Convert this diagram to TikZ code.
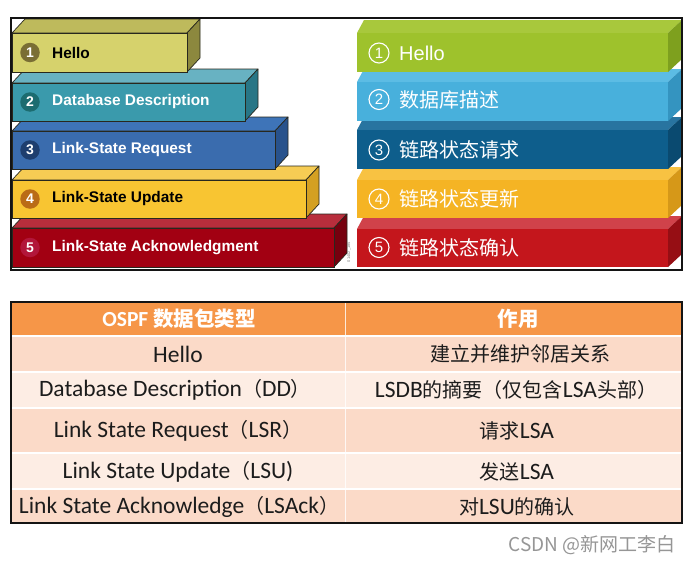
\documentclass[tikz,border=0pt]{standalone}
\usepackage{fontspec}
\setmainfont{Liberation Sans}
\newfontfamily\cjk{Noto Sans CJK SC}
\newfontfamily\calfont{Carlito}
\definecolor{frame}{RGB}{20,20,20}
\definecolor{lout}{RGB}{40,40,30}
% left blocks
\definecolor{lAf}{RGB}{214,210,108}\definecolor{lAt}{RGB}{190,186,92}\definecolor{lAs}{RGB}{140,136,62}\definecolor{lAc}{RGB}{122,110,52}
\definecolor{lBf}{RGB}{58,154,172}\definecolor{lBt}{RGB}{104,178,194}\definecolor{lBs}{RGB}{40,118,134}\definecolor{lBc}{RGB}{28,108,112}
\definecolor{lCf}{RGB}{58,108,174}\definecolor{lCt}{RGB}{62,116,184}\definecolor{lCs}{RGB}{40,82,140}\definecolor{lCc}{RGB}{30,62,110}
\definecolor{lDf}{RGB}{248,197,50}\definecolor{lDt}{RGB}{246,204,84}\definecolor{lDs}{RGB}{212,160,34}\definecolor{lDc}{RGB}{186,108,22}
\definecolor{lEf}{RGB}{162,0,18}\definecolor{lEt}{RGB}{184,46,60}\definecolor{lEs}{RGB}{118,0,14}\definecolor{lEc}{RGB}{178,22,58}
% right blocks
\definecolor{rAf}{RGB}{158,194,44}\definecolor{rAt}{RGB}{168,200,60}\definecolor{rAs}{RGB}{126,160,30}
\definecolor{rBf}{RGB}{72,176,220}\definecolor{rBt}{RGB}{92,188,228}\definecolor{rBs}{RGB}{52,148,192}
\definecolor{rCf}{RGB}{14,94,140}\definecolor{rCt}{RGB}{40,116,160}\definecolor{rCs}{RGB}{10,74,112}
\definecolor{rDf}{RGB}{245,180,36}\definecolor{rDt}{RGB}{248,194,66}\definecolor{rDs}{RGB}{214,152,24}
\definecolor{rEf}{RGB}{196,22,28}\definecolor{rEt}{RGB}{208,66,74}\definecolor{rEs}{RGB}{150,14,20}
% table
\definecolor{thead}{RGB}{246,150,72}
\definecolor{rowA}{RGB}{251,218,200}
\definecolor{rowB}{RGB}{253,237,228}
\definecolor{ttext}{RGB}{28,28,28}
\definecolor{wm}{RGB}{150,150,150}
\newcommand{\lblock}[7]{%
  \draw[fill=#6,draw=lout,line width=0.7pt,line join=round] (#1,#2) -- (#1+13,#2-14) -- (#3+13,#2-14) -- (#3,#2) -- cycle;
  \draw[fill=#7,draw=lout,line width=0.7pt,line join=round] (#3,#2) -- (#3+13,#2-14) -- (#3+13,#4-14) -- (#3,#4) -- cycle;
  \draw[fill=#5,draw=lout,line width=0.7pt] (#1,#2) rectangle (#3,#4);}
\newcommand{\rblock}[7]{%
  \fill[#6] (#1,#2) -- (#1+7,#2-13) -- (#3+14,#2-13) -- (#3,#2) -- cycle;
  \fill[#7] (#3,#2) -- (#3+14,#2-13) -- (#3+14,#4-13) -- (#3,#4) -- cycle;
  \fill[#5] (#1,#2) rectangle (#3,#4);}
\newcommand{\zh}[1]{{\cjk\fontsize{20}{24}\selectfont #1}}
\newcommand{\la}[1]{{\calfont\fontsize{23.5}{26}\selectfont #1}}
\newcommand{\zhb}[1]{{\cjk\bfseries\fontsize{20.5}{24}\selectfont #1}}
\newcommand{\lab}[1]{{\calfont\bfseries\fontsize{21.5}{26}\selectfont #1}}
\tikzset{
  lnum/.style={circle,inner sep=0pt,minimum size=19.5pt,text=white,font=\bfseries\fontsize{14}{14}\selectfont},
  llab/.style={anchor=west,inner sep=0pt,font=\bfseries\fontsize{15.4}{18}\selectfont},
  rnum/.style={circle,draw=white,line width=1.1pt,inner sep=0pt,minimum size=20pt,text=white,font=\fontsize{15}{15}\selectfont},
  rlab/.style={anchor=west,inner sep=0pt,text=white,font=\fontsize{20}{24}\selectfont},
  cell/.style={inner sep=0pt,text=ttext}
}
\begin{document}
\begin{tikzpicture}[x=1pt,y=-1pt]
\useasboundingbox (0,0) rectangle (690,562);
\fill[white] (0,0) rectangle (690,562);
% ---------- left stacked blocks ----------
\lblock{12}{228}{334}{267}{lEf}{lEt}{lEs}
\lblock{12}{180}{306}{218}{lDf}{lDt}{lDs}
\lblock{12}{131}{275}{169}{lCf}{lCt}{lCs}
\lblock{12}{83}{245}{121}{lBf}{lBt}{lBs}
\lblock{12}{33}{187}{72}{lAf}{lAt}{lAs}
\node[lnum,fill=lAc] (n1) at (30,52.5) {1};
\node[lnum,fill=lBc] (n2) at (30,102) {2};
\node[lnum,fill=lCc] (n3) at (30,150) {3};
\node[lnum,fill=lDc] (n4) at (30,199) {4};
\node[lnum,fill=lEc] (n5) at (30,247.5) {5};
\node[llab,text=black] (t1) at (52,52.5) {Hello};
\node[llab,text=white] (t2) at (52,102) {Database Description};
\node[llab,text=white] (t3) at (52,150) {Link-State Request};
\node[llab,text=black] (t4) at (52,199) {Link-State Update};
\node[llab,text=white] (t5) at (52,247.5) {Link-State Acknowledgment};
\node[rotate=90,inner sep=0pt,text=gray,font=\fontsize{4}{4}\selectfont] (fig) at (349,252) {01402\_185};
% ---------- right stacked blocks ----------
\begin{scope}
\clip (11,18) rectangle (682,270);
\rblock{357}{229}{668}{267}{rEf}{rEt}{rEs}
\rblock{357}{180}{668}{218}{rDf}{rDt}{rDs}
\rblock{357}{130}{668}{169}{rCf}{rCt}{rCs}
\rblock{357}{82}{668}{121}{rBf}{rBt}{rBs}
\rblock{357}{33}{668}{72}{rAf}{rAt}{rAs}
\end{scope}
\node[rnum] (m1) at (379,53) {1};
\node[rnum] (m2) at (379,99.5) {2};
\node[rnum] (m3) at (379,150) {3};
\node[rnum] (m4) at (379,199) {4};
\node[rnum] (m5) at (379,247.5) {5};
\node[rlab] (s1) at (399,53) {Hello};
\node[rlab] (s2) at (399,99.5) {\cjk 数据库描述};
\node[rlab] (s3) at (399,150) {\cjk 链路状态请求};
\node[rlab] (s4) at (399,199) {\cjk 链路状态更新};
\node[rlab] (s5) at (399,247.5) {\cjk 链路状态确认};
\draw[frame,line width=1.4pt] (11,18) rectangle (682,270);
% ---------- table ----------
\fill[thead] (11,302) rectangle (682,336);
\fill[rowA] (11,336) rectangle (682,372);
\fill[rowB] (11,372) rectangle (682,408);
\fill[rowA] (11,408) rectangle (682,453);
\fill[rowB] (11,453) rectangle (682,489);
\fill[rowA] (11,489) rectangle (682,523);
\draw[white,line width=1.2pt] (11,336) -- (682,336) (11,372) -- (682,372) (11,408) -- (682,408) (11,453) -- (682,453) (11,489) -- (682,489);
\draw[white,opacity=0.8,line width=1pt] (345,302) -- (345,523);
\draw[frame,line width=1.2pt] (11,302) rectangle (682,523);
\node[cell,text=white] (h1) at (179,319) {\lab{OSPF }\zhb{数据包类型}};
\node[cell,text=white] (h2) at (518,319) {\zhb{作用}};
\node[cell] (a1) at (178,354) {\la{Hello}};
\node[cell] (a2) at (175,390) {\la{Database Description}\zh{（}\la{DD}\zh{）}};
\node[cell] (a3) at (178,431) {\la{Link State Request}\zh{（}\la{LSR}\zh{）}};
\node[cell] (a4) at (178,472) {\la{Link State Update}\zh{（}\la{LSU)}};
\node[cell] (a5) at (179,507) {\la{Link State Acknowledge}\zh{（}\la{LSAck}\zh{）}};
\node[cell] (b1) at (520,354) {\zh{建立并维护邻居关系}};
\node[cell] (b2) at (516,390) {\la{LSDB}\zh{的摘要（仅包含}\la{LSA}\zh{头部）}};
\node[cell] (b3) at (517,431) {\zh{请求}\la{LSA}};
\node[cell] (b4) at (517,472) {\zh{发送}\la{LSA}};
\node[cell] (b5) at (517,507) {\zh{对}\la{LSU}\zh{的确认}};
\node[anchor=east,inner sep=0pt,text=wm,font=\cjk\fontsize{19}{22}\selectfont] (csdn) at (676,545) {CSDN @新网工李白};
\end{tikzpicture}
\end{document}
